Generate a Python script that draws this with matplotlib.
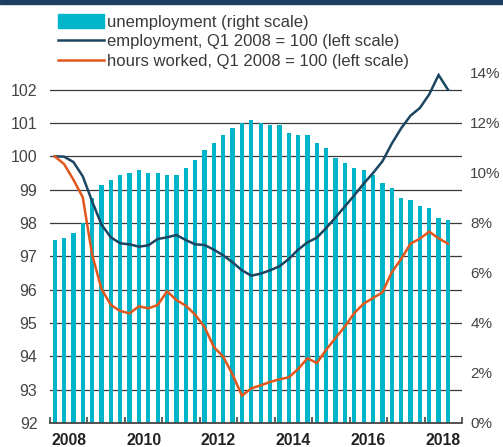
import matplotlib
matplotlib.use("Agg")
import matplotlib.pyplot as plt
from matplotlib.patches import Patch, Rectangle
from matplotlib.lines import Line2D
import pandas as pd

# quarterly data, Q1 2008 - Q3 2018
quarters = pd.period_range("2008Q1", "2018Q3", freq="Q")

unemployment = [7.3, 7.4, 7.6, 8.0, 9.0, 9.5, 9.7, 9.9, 10.0, 10.1,
                10.0, 10.0, 9.9, 9.9, 10.2, 10.5, 10.9, 11.2, 11.5, 11.8,
                12.0, 12.1, 12.0, 11.9, 11.9, 11.6, 11.5, 11.5, 11.2, 11.0,
                10.6, 10.4, 10.2, 10.1, 9.9, 9.6, 9.4, 9.0, 8.9, 8.7,
                8.6, 8.2, 8.1]

employment = [100.0, 99.99, 99.83, 99.4, 98.65, 97.95, 97.57, 97.39, 97.36, 97.29,
              97.33, 97.52, 97.57, 97.64, 97.49, 97.36, 97.34, 97.2, 97.03, 96.82,
              96.58, 96.42, 96.48, 96.58, 96.7, 96.92, 97.2, 97.42, 97.56, 97.85,
              98.17, 98.5, 98.83, 99.18, 99.5, 99.85, 100.38, 100.84, 101.22, 101.45,
              101.86, 102.44, 102.0]

hours = [100.0, 99.77, 99.3, 98.77, 97.05, 96.02, 95.54, 95.36, 95.29, 95.5,
         95.44, 95.54, 95.95, 95.69, 95.52, 95.25, 94.88, 94.28, 93.99, 93.45,
         92.82, 93.04, 93.13, 93.23, 93.31, 93.37, 93.62, 93.94, 93.8, 94.2,
         94.55, 94.9, 95.3, 95.58, 95.75, 95.92, 96.52, 96.92, 97.38, 97.53,
         97.74, 97.54, 97.38]

year_labels = ["2008", "2010", "2012", "2014", "2016", "2018"]
left_ticks = list(range(92, 103))
right_ticks = list(range(0, 15, 2))

TEAL = "#00b5c9"
NAVY = "#1c4561"
ORANGE = "#e2571c"

plt.rcParams["font.family"] = ["Liberation Sans", "DejaVu Sans"]
plt.rcParams["font.size"] = 11.3

# quarter mid points in fractional years
x = [q.year + (q.quarter - 0.5) / 4 for q in quarters]

fig = plt.figure(figsize=(5.03, 4.47), dpi=100)
ax = fig.add_axes([50 / 503, 24 / 447, 412 / 503, 350 / 447])

# dark band at top
fig.patches.append(Rectangle((0, 1 - 4 / 447), 1, 4 / 447, transform=fig.transFigure,
                             color="#1b3f5e", zorder=0))

ax.bar(x, unemployment, width=0.115, color=TEAL, zorder=2)
ax.set_xlim(2008, 2019)
ax.set_ylim(0, 14)

# grid lines follow the left scale (92..102.5 on 0..14)
for v in left_ticks[1:]:
    ax.axhline((v - 92) * 14 / 10.5, color="#3a3a3a", lw=0.9, zorder=1)

ax2 = ax.twinx()
ax2.plot(x, employment, color=NAVY, lw=1.8, solid_joinstyle="miter")
ax2.plot(x, hours, color=ORANGE, lw=1.8, solid_joinstyle="miter")
ax2.set_ylim(92, 102.5)
ax2.yaxis.tick_left()
ax2.set_yticks(left_ticks)
ax2.tick_params(axis="y", length=0, pad=9, labelcolor="#444444", labelsize=11.5)

ax.yaxis.tick_right()
ax.set_yticks(right_ticks)
ax.set_yticklabels([f"{v}%" for v in right_ticks])
ax.tick_params(axis="y", length=0, pad=6, labelcolor="#444444", labelsize=11)

ax.set_xticks([int(y) + 0.5 for y in year_labels])
ax.set_xticklabels(year_labels, fontweight="bold", color="#222222")
ax.set_xticks(range(2008, 2020), minor=True)
ax.tick_params(axis="x", which="major", length=0, pad=7, labelsize=11.3)
ax.tick_params(axis="x", which="minor", direction="in", length=4.5, width=1.2,
               color="#444444")

for s in ["top", "left", "right"]:
    ax.spines[s].set_visible(False)
    ax2.spines[s].set_visible(False)
ax2.spines["bottom"].set_visible(False)
ax.spines["bottom"].set_color("#444444")
ax.spines["bottom"].set_linewidth(1.3)

handles = [Patch(color=TEAL), Line2D([], [], color=NAVY, lw=1.8),
           Line2D([], [], color=ORANGE, lw=1.8)]
labels = ["unemployment (right scale)", "employment, Q1 2008 = 100 (left scale)",
          "hours worked, Q1 2008 = 100 (left scale)"]
leg = fig.legend(handles, labels, loc="upper left", bbox_to_anchor=(58 / 503, 1 - 14 / 447),
                 frameon=False, borderpad=0, borderaxespad=0, handlelength=2.75,
                 handleheight=0.88, handletextpad=0.2, labelspacing=0.26, fontsize=12)
for t in leg.get_texts():
    t.set_color("#3a3a3a")

fig.savefig("out.png", dpi=100)
